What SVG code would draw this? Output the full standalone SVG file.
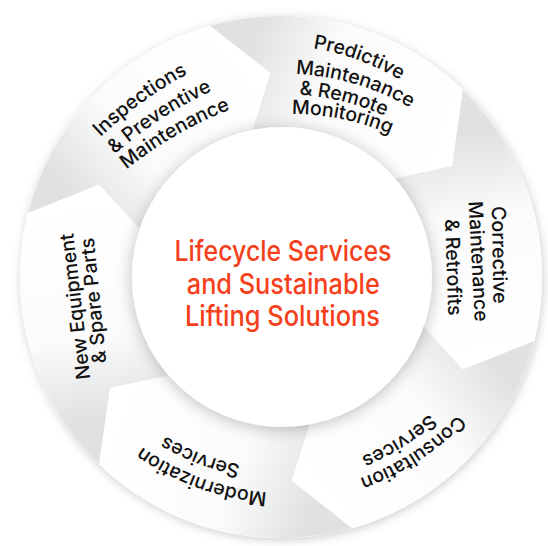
<svg xmlns="http://www.w3.org/2000/svg" xmlns:xlink="http://www.w3.org/1999/xlink" width="548" height="546" viewBox="0 0 548 546">
<defs>
  <linearGradient id="segGrad" gradientUnits="userSpaceOnUse" x1="240" y1="73" x2="442" y2="151">
    <stop offset="0" stop-color="#e0e1e3"/>
    <stop offset="0.38" stop-color="#fbfbfb"/>
    <stop offset="1" stop-color="#ffffff"/>
  </linearGradient>
  <filter id="ringShadow" x="-10%" y="-10%" width="120%" height="120%">
    <feDropShadow dx="1" dy="2" stdDeviation="5" flood-color="#000" flood-opacity="0.2"/>
  </filter>
  <filter id="innerShadow" x="-20%" y="-20%" width="140%" height="140%">
    <feDropShadow dx="0" dy="2" stdDeviation="8" flood-color="#000" flood-opacity="0.26"/>
  </filter>
  <path id="seg" d="M209.93,25.86 A261,261 0 0 1 462.97,89.89 L452.09,165.9 L394.2,178.59 A150,150 0 0 0 252.38,129.76 L270.33,73.28 Z"/>
  <path id="arcA" d="M-130,36.46 A250,250 0 0 1 130,36.46"/>
  <path id="arcB" d="M-100,12.7 A400,400 0 0 1 100,12.7"/>
</defs>
<style>
  .lbl{font-family:Inter,"Liberation Sans",sans-serif;font-size:19.5px;font-weight:500;fill:#111;text-anchor:middle}
  .ctr{font-family:Inter,"Liberation Sans",sans-serif;font-size:28px;font-weight:500;fill:#f5401b;text-anchor:middle}
</style>
<rect width="548" height="546" fill="#fff"/>
<circle cx="281" cy="277" r="261" fill="#fff" filter="url(#ringShadow)"/>

<g id="node-predictive">
  <use href="#seg" fill="url(#segGrad)"/>
  <text class="lbl" transform="translate(358,60) rotate(20)"><textPath href="#arcA" startOffset="50%">Predictive</textPath></text>
  <text class="lbl" transform="translate(355,84) rotate(16.5)"><textPath href="#arcA" startOffset="50%">Maintenance</textPath></text>
  <text class="lbl" transform="translate(343,101.5) rotate(14)"><textPath href="#arcA" startOffset="50%">&amp; Remote</textPath></text>
  <text class="lbl" transform="translate(342,119) rotate(11.5)"><textPath href="#arcA" startOffset="50%">Monitoring</textPath></text>
</g>

<g id="node-corrective">
  <use href="#seg" fill="url(#segGrad)" transform="rotate(60 281 277)"/>
  <text class="lbl" transform="translate(492.7,255) rotate(89)">Corrective</text>
  <text class="lbl" transform="translate(471.7,261.7) rotate(87)">Maintenance</text>
  <text class="lbl" transform="translate(446.7,267.5) rotate(88)">&amp; Retrofits</text>
</g>

<g id="node-consultation">
  <use href="#seg" fill="url(#segGrad)" transform="rotate(120 281 277)"/>
  <text class="lbl" transform="translate(412.5,452.3) rotate(147)"><textPath href="#arcA" startOffset="50%">Consultation</textPath></text>
  <text class="lbl" transform="translate(397.2,438) rotate(148)"><textPath href="#arcA" startOffset="50%">Services</textPath></text>
</g>

<g id="node-modernization">
  <use href="#seg" fill="url(#segGrad)" transform="rotate(180 281 277)"/>
  <text class="lbl" transform="translate(201.5,478) rotate(200)"><textPath href="#arcA" startOffset="50%">Modernization</textPath></text>
  <text class="lbl" transform="translate(201.6,453.6) rotate(201)"><textPath href="#arcA" startOffset="50%">Services</textPath></text>
</g>

<g id="node-new-equipment">
  <use href="#seg" fill="url(#segGrad)" transform="rotate(240 281 277)"/>
  <text class="lbl" transform="translate(81.7,305.8) rotate(-96.6)">New Equipment</text>
  <text class="lbl" transform="translate(100,300) rotate(-95.7)">&amp; Spare Parts</text>
</g>

<g id="node-inspections">
  <use href="#seg" fill="url(#segGrad)" transform="rotate(300 281 277)"/>
  <text class="lbl" transform="translate(142,102.5) rotate(-36)"><textPath href="#arcB" startOffset="50%">Inspections</textPath></text>
  <text class="lbl" transform="translate(161,119) rotate(-33)"><textPath href="#arcB" startOffset="50%">&amp; Preventive</textPath></text>
  <text class="lbl" transform="translate(176,135.5) rotate(-30)"><textPath href="#arcB" startOffset="50%">Maintenance</textPath></text>
</g>

<g id="connectors"></g>

<g id="node-center">
  <circle cx="282" cy="277" r="150" fill="#fff" filter="url(#innerShadow)"/>
  <text class="ctr" x="283" y="261" textLength="217" lengthAdjust="spacingAndGlyphs">Lifecycle Services</text>
  <text class="ctr" x="283.3" y="293.5" textLength="193" lengthAdjust="spacingAndGlyphs">and Sustainable</text>
  <text class="ctr" x="282.5" y="326" textLength="195" lengthAdjust="spacingAndGlyphs">Lifting Solutions</text>
</g>
</svg>
